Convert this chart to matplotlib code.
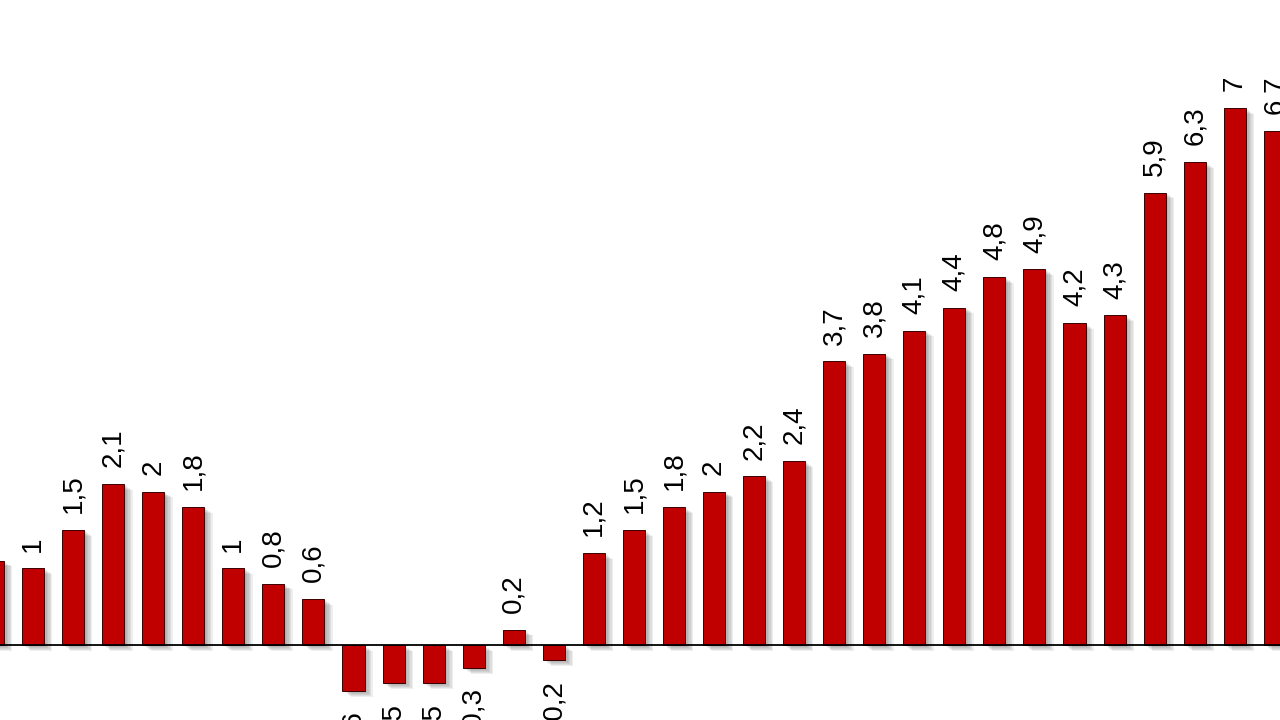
import matplotlib.pyplot as plt
import matplotlib.patheffects as pe

values = [1.1, 1, 1.5, 2.1, 2, 1.8, 1, 0.8, 0.6, -0.6, -0.5, -0.5, -0.3, 0.2, -0.2,
          1.2, 1.5, 1.8, 2, 2.2, 2.4, 3.7, 3.8, 4.1, 4.4, 4.8, 4.9, 4.2, 4.3,
          5.9, 6.3, 7, 6.7]
labels = [str(v).replace('.', ',') for v in values]
x = list(range(len(values)))

plt.rcParams['font.family'] = ['Liberation Sans', 'DejaVu Sans']

fig = plt.figure(figsize=(12.8, 7.2), dpi=100)
ax = fig.add_axes([0, 0, 1, 1])

# soft shadow made of a few offset layers
shadow = [pe.SimplePatchShadow(offset=(dx, -dx * 0.7), shadow_rgbFace='#444444', alpha=0.09)
          for dx in (1.0, 2.0, 3.0, 4.0, 5.0, 6.0)]
bars = ax.bar(x, values, width=0.55, color='#c00000', edgecolor='#3a0000', linewidth=0.7, zorder=3)
for b in bars:
    b.set_path_effects(shadow + [pe.Normal()])

ax.axhline(0, color='black', linewidth=1.3, zorder=4)

for xi, v, lab in zip(x, values, labels):
    if v >= 0:
        ax.annotate(lab, (xi, v), xytext=(0, 12), textcoords='offset points',
                    rotation=90, ha='center', va='bottom', fontsize=20)
    else:
        ax.annotate(lab, (xi, v), xytext=(0, -14), textcoords='offset points',
                    rotation=90, ha='center', va='top', fontsize=20)

ax.set_xlim(0.175, 32.13)
ax.set_ylim(-0.978, 8.41)
ax.axis('off')

fig.savefig('out.png', dpi=100, facecolor='white')
